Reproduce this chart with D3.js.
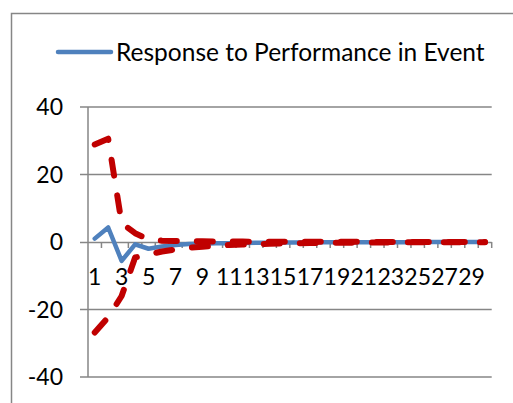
<!DOCTYPE html>
<html>
<head>
<meta charset="utf-8">
<script src="https://cdn.jsdelivr.net/npm/d3@7"></script>
<style>
  body { margin: 0; background: #fff; }
  svg { display: block; font-family: Lato, "Open Sans", sans-serif; }
</style>
</head>
<body>
<svg id="chart" width="513" height="403"></svg>
<script>
// categories 1..30
var categories = [1,2,3,4,5,6,7,8,9,10,11,12,13,14,15,16,17,18,19,20,21,22,23,24,25,26,27,28,29,30];

// response series (blue solid)
var response = [1.0, 4.3, -5.6, -0.7, -2.0, -1.3, -0.9, -0.6, -0.5, -0.4, -0.35, -0.3, -0.25, -0.2, -0.18,
                -0.15, -0.13, -0.11, -0.1, -0.08, -0.07, -0.06, -0.05, -0.04, -0.04, -0.03, -0.03, -0.02, -0.02, -0.02];

// upper and lower bands (red dashed)
var upper = [28.9, 30.6, 5.6, 2.6, 0.8, 0.4, 0.3, 0.25, 0.2, 0.18, 0.15, 0.12, 0.1, 0.09, 0.08,
             0.07, 0.06, 0.05, 0.05, 0.04, 0.04, 0.03, 0.03, 0.03, 0.02, 0.02, 0.02, 0.02, 0.01, 0.01];
var lower = [-26.8, -22.3, -16.0, -4.6, -3.7, -2.8, -2.2, -1.7, -1.4, -1.1, -0.9, -0.75, -0.62, -0.52, -0.44,
             -0.37, -0.31, -0.26, -0.22, -0.19, -0.16, -0.14, -0.12, -0.1, -0.09, -0.08, -0.07, -0.06, -0.05, -0.05];

var yTicks = [40, 20, 0, -20, -40];
var legendLabel = "Response to Performance in Event";

var svg = d3.select("#chart");
var gridColor = "#868686";

/// outer chart border (runs off the right and bottom)
svg.append("path")
    .attr("d", "M11.5,403 V13.5 H513")
    .attr("fill", "none")
    .attr("stroke", gridColor)
    .attr("stroke-width", 1.5);

var x = d3.scaleBand().domain(categories).range([88, 491.7]).padding(0);
var y = d3.scaleLinear().domain([-40, 40]).range([377, 107]);

/// horizontal gridlines + y tick marks
svg.append("g").selectAll("line")
    .data(yTicks.filter(function(d){ return d !== 0; }))
  .enter().append("line")
    .attr("x1", 80).attr("x2", 491.7)
    .attr("y1", function(d){ return y(d); })
    .attr("y2", function(d){ return y(d); })
    .attr("stroke", gridColor).attr("stroke-width", 1.5);

/// y axis line
svg.append("line")
    .attr("x1", 88).attr("x2", 88)
    .attr("y1", y(40)).attr("y2", y(-40))
    .attr("stroke", gridColor).attr("stroke-width", 1.5);

/// y labels
svg.append("g").selectAll("text")
    .data(yTicks)
  .enter().append("text")
    .attr("x", 63)
    .attr("y", function(d){ return y(d); })
    .attr("dy", "0.36em")
    .attr("text-anchor", "end")
    .attr("font-size", 23)
    .attr("fill", "#000")
    .text(function(d){ return d; });

/// x axis at zero with tick marks
var xAxis = d3.axisBottom(x).tickSize(0).tickFormat(function(d){ return d % 2 === 1 ? d : ""; });
var xa = svg.append("g")
    .attr("transform", "translate(0," + y(0) + ")")
    .call(xAxis);
xa.select(".domain").attr("stroke", gridColor).attr("stroke-width", 1.5)
    .attr("d", "M80,0.5H491.7");
xa.selectAll(".tick text")
    .attr("y", 27)
    .attr("dy", "0.71em")
    .attr("font-size", 23)
    .attr("font-family", "Lato, 'Open Sans', sans-serif")
    .attr("fill", "#000");

xa.append("g").selectAll("line")
    .data(categories)
  .enter().append("line")
    .attr("x1", function(d){ return x(d) + x.bandwidth(); })
    .attr("x2", function(d){ return x(d) + x.bandwidth(); })
    .attr("y1", 0).attr("y2", 6)
    .attr("stroke", gridColor).attr("stroke-width", 1.5);

/// series
var line = d3.line()
    .x(function(d, i){ return x(categories[i]) + x.bandwidth() / 2; })
    .y(function(d){ return y(d); });

svg.append("path")
    .datum(response)
    .attr("d", line)
    .attr("fill", "none")
    .attr("stroke", "#4F81BD")
    .attr("stroke-width", 4.5)
    .attr("stroke-linejoin", "round")
    .attr("stroke-linecap", "round");

[upper, lower].forEach(function(s){
    svg.append("path")
        .datum(s)
        .attr("d", line)
        .attr("fill", "none")
        .attr("stroke", "#C00000")
        .attr("stroke-width", 6)
        .attr("stroke-dasharray", "16 20")
        .attr("stroke-linejoin", "round")
        .attr("stroke-linecap", "round");
});

/// legend
var lg = svg.append("g");
lg.append("line")
    .attr("x1", 58).attr("x2", 111)
    .attr("y1", 52).attr("y2", 52)
    .attr("stroke", "#4F81BD").attr("stroke-width", 4.5)
    .attr("stroke-linecap", "round");
lg.append("text")
    .attr("x", 116).attr("y", 52).attr("dy", "0.36em")
    .attr("font-size", 24.5)
    .attr("fill", "#000")
    .text(legendLabel);
</script>
</body>
</html>
